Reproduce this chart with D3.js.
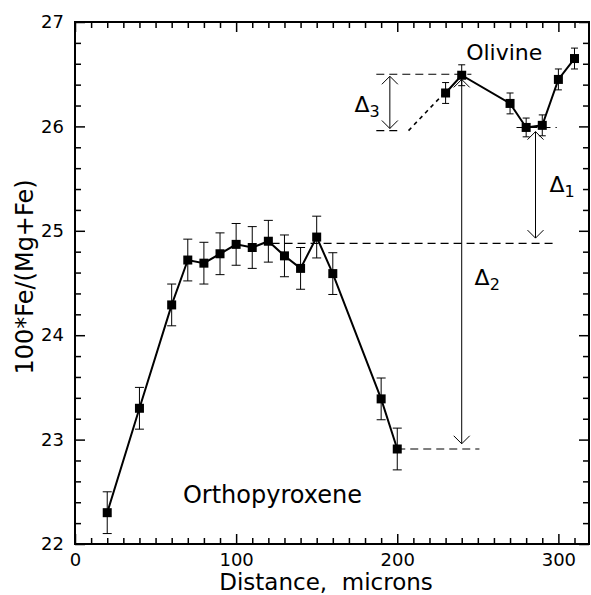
<!DOCTYPE html>
<html>
<head>
<meta charset="utf-8">
<script src="https://cdn.jsdelivr.net/npm/d3@7"></script>
<style>
  body { margin: 0; background: #fff; }
  svg { display: block; font-family: "DejaVu Sans", sans-serif; }
</style>
</head>
<body>
<div id="chart"></div>
<script>
const width = 591;
const height = 595;

// orthopyroxene profile
const opxX = [20, 40, 60, 70, 80, 90, 100, 110, 120, 130, 140, 150, 160, 190, 200];
const opxY = [22.30, 23.30, 24.29, 24.72, 24.69, 24.78, 24.87, 24.84, 24.90, 24.76, 24.64, 24.94, 24.59, 23.39, 22.91];
const opxErr = [0.2, 0.2, 0.2, 0.2, 0.2, 0.2, 0.2, 0.2, 0.2, 0.2, 0.2, 0.2, 0.2, 0.2, 0.2];

// olivine profile
const olX = [230, 240, 270, 280, 290, 300, 310];
const olY = [26.32, 26.49, 26.22, 25.99, 26.01, 26.45, 26.65];
const olErr = [0.1, 0.1, 0.1, 0.09, 0.1, 0.1, 0.1];

const xMajor = [0, 100, 200, 300];
const yMajor = [22, 23, 24, 25, 26, 27];

// dashed guide lines [x1, x2, y]
const guides = [[122, 298, 24.88], [200, 251, 22.91], [187, 246, 26.50], [187, 200, 25.96], [274, 299, 25.99]];
// dotted extrapolation
const dotted = [[207, 25.96], [228, 26.30]];
// double arrows [x, yTop, yBottom, subscript, labelX, labelY]
const arrows = [
  [195.4, 26.48, 25.98, "3", 173.5, 26.14],
  [240, 26.45, 22.96, "2", 248, 24.48],
  [285.8, 25.95, 24.93, "1", 294.5, 25.37]
];

const x = d3.scaleLinear().domain([0, 319]).range([75, 589]);
const y = d3.scaleLinear().domain([22, 27]).range([544, 22]);

const svg = d3.select("#chart").append("svg")
  .attr("width", width)
  .attr("height", height);

const minorX = d3.range(10, 320, 10).filter(d => d % 100 !== 0);
const minorY = d3.range(22, 27.001, 0.2).filter(d => Math.abs(d - Math.round(d)) > 0.01);

function axisStyle(g) {
  g.select(".domain").remove();
  g.selectAll("line").attr("stroke", "#000").attr("stroke-width", 1.5);
  g.selectAll("text").attr("fill", "#000").attr("font-family", "DejaVu Sans");
}

// bottom
svg.append("g").attr("transform", "translate(0,544)")
  .call(d3.axisBottom(x).tickValues(xMajor).tickSize(-10).tickPadding(9).tickFormat(d3.format("d")))
  .attr("font-size", 18).call(axisStyle);
svg.append("g").attr("transform", "translate(0,544)")
  .call(d3.axisBottom(x).tickValues(minorX).tickSize(-6).tickFormat("")).call(axisStyle);
// top
svg.append("g").attr("transform", "translate(0,22)")
  .call(d3.axisTop(x).tickValues(xMajor).tickSize(-10).tickFormat("")).call(axisStyle);
svg.append("g").attr("transform", "translate(0,22)")
  .call(d3.axisTop(x).tickValues(minorX).tickSize(-6).tickFormat("")).call(axisStyle);
// left
svg.append("g").attr("transform", "translate(75,0)")
  .call(d3.axisLeft(y).tickValues(yMajor).tickSize(-10).tickPadding(11).tickFormat(d3.format("d")))
  .attr("font-size", 18).call(axisStyle);
svg.append("g").attr("transform", "translate(75,0)")
  .call(d3.axisLeft(y).tickValues(minorY).tickSize(-6).tickFormat("")).call(axisStyle);
// right
svg.append("g").attr("transform", "translate(589,0)")
  .call(d3.axisRight(y).tickValues(yMajor).tickSize(-10).tickFormat("")).call(axisStyle);
svg.append("g").attr("transform", "translate(589,0)")
  .call(d3.axisRight(y).tickValues(minorY).tickSize(-6).tickFormat("")).call(axisStyle);

// frame
svg.append("rect")
  .attr("x", x(0)).attr("y", y(27))
  .attr("width", x(319) - x(0)).attr("height", y(22) - y(27))
  .attr("fill", "none").attr("stroke", "#000").attr("stroke-width", 2);

// guides
svg.selectAll(".guide").data(guides).enter().append("line")
  .attr("x1", d => x(d[0])).attr("x2", d => x(d[1]))
  .attr("y1", d => y(d[2])).attr("y2", d => y(d[2]))
  .attr("stroke", "#000").attr("stroke-width", 1.1).attr("stroke-dasharray", "8,5");

svg.append("path")
  .attr("d", d3.line().x(d => x(d[0])).y(d => y(d[1]))(dotted))
  .attr("fill", "none").attr("stroke", "#000").attr("stroke-width", 1.6).attr("stroke-dasharray", "4,4");

// arrows
const head = 8;
arrows.forEach(a => {
  const ax = x(a[0]), yt = y(a[1]), yb = y(a[2]);
  svg.append("line").attr("x1", ax).attr("x2", ax).attr("y1", yt).attr("y2", yb)
    .attr("stroke", "#000").attr("stroke-width", 1);
  svg.append("path")
    .attr("d", `M${ax - head},${yt + head}L${ax},${yt}L${ax + head},${yt + head}`)
    .attr("fill", "none").attr("stroke", "#000").attr("stroke-width", 1);
  svg.append("path")
    .attr("d", `M${ax - head},${yb - head}L${ax},${yb}L${ax + head},${yb - head}`)
    .attr("fill", "none").attr("stroke", "#000").attr("stroke-width", 1);
  const t = svg.append("text").attr("x", x(a[4])).attr("y", y(a[5]))
    .attr("font-size", 22).attr("fill", "#000");
  t.append("tspan").text("\u0394");
  t.append("tspan").attr("dy", 5).attr("font-size", 16).text(a[3]);
});

// series
function drawSeries(xs, ys, errs, cap) {
  const pts = xs.map((d, i) => [d, ys[i], errs[i]]);
  svg.append("path")
    .attr("d", d3.line().x(d => x(d[0])).y(d => y(d[1]))(pts))
    .attr("fill", "none").attr("stroke", "#000").attr("stroke-width", 2);
  const g = svg.append("g").attr("stroke", "#000").attr("stroke-width", 1);
  g.selectAll(".eb").data(pts).enter().append("line")
    .attr("x1", d => x(d[0])).attr("x2", d => x(d[0]))
    .attr("y1", d => y(d[1] + d[2])).attr("y2", d => y(d[1] - d[2]));
  g.selectAll(".ct").data(pts).enter().append("line")
    .attr("x1", d => x(d[0]) - cap).attr("x2", d => x(d[0]) + cap)
    .attr("y1", d => y(d[1] + d[2])).attr("y2", d => y(d[1] + d[2]));
  g.selectAll(".cb").data(pts).enter().append("line")
    .attr("x1", d => x(d[0]) - cap).attr("x2", d => x(d[0]) + cap)
    .attr("y1", d => y(d[1] - d[2])).attr("y2", d => y(d[1] - d[2]));
  svg.append("g").selectAll("rect").data(pts).enter().append("rect")
    .attr("x", d => x(d[0]) - 4.5).attr("y", d => y(d[1]) - 4.5)
    .attr("width", 9).attr("height", 9).attr("fill", "#000");
}
drawSeries(opxX, opxY, opxErr, 4.5);
drawSeries(olX, olY, olErr, 3.5);

// labels
svg.append("text").attr("x", x(266.4)).attr("y", y(26.64))
  .attr("text-anchor", "middle").attr("font-size", 22).text("Olivine");
svg.append("text").attr("x", x(67)).attr("y", y(22.39))
  .attr("font-size", 24).text("Orthopyroxene");

svg.append("text").attr("x", 326).attr("y", 590)
  .attr("text-anchor", "middle").attr("font-size", 23)
  .attr("xml:space", "preserve").text("Distance,  microns");
svg.append("text").attr("transform", "translate(33,277) rotate(-90)")
  .attr("text-anchor", "middle").attr("font-size", 24).text("100*Fe/(Mg+Fe)");
</script>
</body>
</html>
